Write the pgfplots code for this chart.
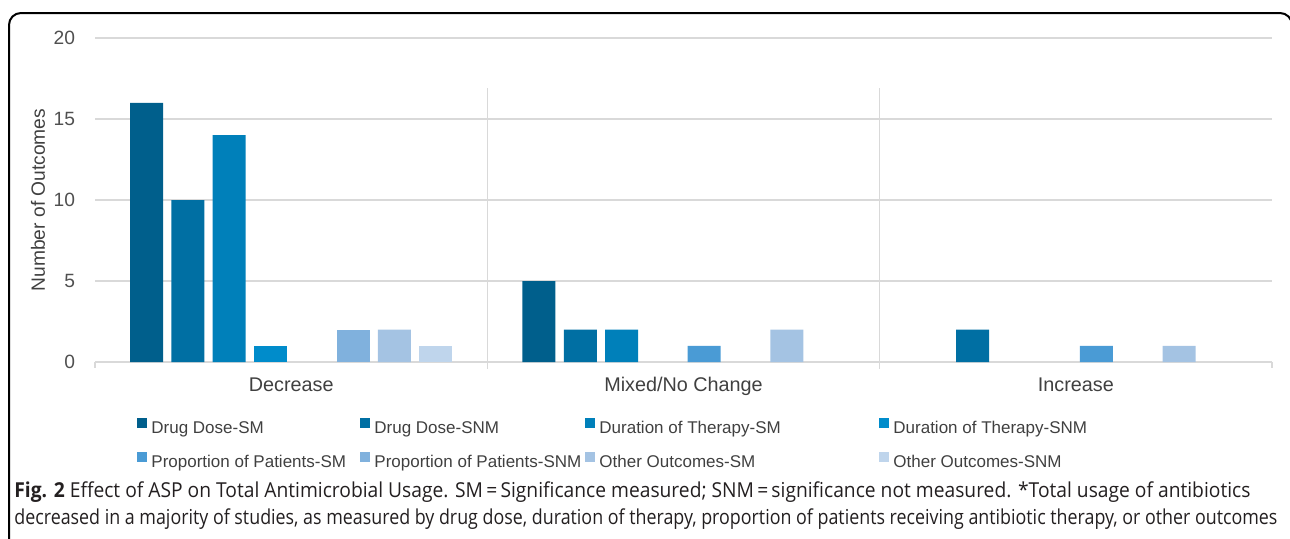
\documentclass[border=0pt]{standalone}
\usepackage{graphicx}
\usepackage{pgfplots}
\pgfplotsset{compat=1.18}
\usepackage{fontspec}
\setmainfont{Liberation Sans}
\newfontfamily\capfont{Open Sans}
\definecolor{cA}{HTML}{005F8C}
\definecolor{cB}{HTML}{006FA3}
\definecolor{cC}{HTML}{0080BA}
\definecolor{cD}{HTML}{008CCB}
\definecolor{cE}{HTML}{4A9BD5}
\definecolor{cF}{HTML}{80B1DD}
\definecolor{cG}{HTML}{A4C3E3}
\definecolor{cH}{HTML}{BFD5EC}
\definecolor{gridgray}{HTML}{D9D9D9}
\definecolor{tickgray}{HTML}{505050}
\definecolor{labgray}{HTML}{404040}
\definecolor{capblack}{HTML}{231F20}
\begin{document}
\begin{tikzpicture}
\useasboundingbox (0,0) rectangle (645pt,269pt);
\begin{scope}
\clip (0,0) rectangle (645pt,269pt);
\draw[line width=1pt, rounded corners=6pt] (4.5pt,262.5pt) rectangle (646pt,-20pt);
\end{scope}
\begin{axis}[
  at={(47.5pt,88pt)}, anchor=south west,
  scale only axis, width=588.5pt, height=162pt,
  xmin=-0.5, xmax=2.5, ymin=0, ymax=20,
  ytick={0,5,10,15,20},
  xtick={0,1,2}, xticklabels={Decrease,Mixed/No Change,Increase},
  axis line style={draw=none},
  major tick length=0pt,
  ymajorgrids, grid style={color=gridgray, line width=0.6pt},
  ybar=4.15pt, bar width=16.5pt,
  clip=false,
  /pgf/number format/assume math mode=true,
  y tick label style={font=\fontsize{9.6}{11}\selectfont, text=tickgray, anchor=east, xshift=-6.5pt},
  x tick label style={font=\fontsize{9.9}{11}\selectfont, text=labgray, anchor=north, yshift=-4.2pt},
  ylabel={Number of Outcomes},
  ylabel style={at={(axis description cs:-0.0484,0.5)}, anchor=center, font=\fontsize{9.6}{11}\selectfont, text=labgray},
  legend columns=4,
  legend style={at={(axis description cs:0.0357,-0.1728)}, anchor=north west, draw=none, fill=none, inner sep=0pt,
    font=\fontsize{8.5}{10}\selectfont, text=labgray, row sep=7.9pt,
    nodes={inner xsep=2pt, inner ysep=0pt}},
  legend cell align=left,
  legend image code/.code={\fill[#1] (0pt,0.2pt) rectangle (5pt,5.2pt);},
]
\draw[gridgray, line width=0.6pt] (axis cs:-0.5,0) -- (axis cs:2.5,0);
\draw[gridgray, line width=0.6pt] (axis cs:-0.5,0) -- (axis cs:-0.5,-0.4);
\draw[gridgray, line width=0.6pt] (axis cs:2.5,0) -- (axis cs:2.5,-0.4);
\draw[gridgray, line width=0.6pt] (axis cs:0.5,16.9) -- (axis cs:0.5,-0.45);
\draw[gridgray, line width=0.6pt] (axis cs:1.5,16.9) -- (axis cs:1.5,-0.45);
\addplot[fill=cA, draw=none] coordinates {(0,16) (1,5)};
\addlegendentry{\makebox[102.5pt][l]{Drug Dose-SM}}
\addplot[fill=cB, draw=none] coordinates {(0,10) (1,2) (2,2)};
\addlegendentry{\makebox[103.5pt][l]{Drug Dose-SNM}}
\addplot[fill=cC, draw=none] coordinates {(0,14) (1,2)};
\addlegendentry{\makebox[138pt][l]{Duration of Therapy-SM}}
\addplot[fill=cD, draw=none] coordinates {(0,1)};
\addlegendentry{\makebox[100pt][l]{Duration of Therapy-SNM}}
\addplot[fill=cE, draw=none] coordinates {(1,1) (2,1)};
\addlegendentry{\makebox[102.5pt][l]{Proportion of Patients-SM}}
\addplot[fill=cF, draw=none] coordinates {(0,2)};
\addlegendentry{\makebox[103.5pt][l]{Proportion of Patients-SNM}}
\addplot[fill=cG, draw=none] coordinates {(0,2) (1,2) (2,1)};
\addlegendentry{\makebox[138pt][l]{Other Outcomes-SM}}
\addplot[fill=cH, draw=none] coordinates {(0,1)};
\addlegendentry{\makebox[100pt][l]{Other Outcomes-SNM}}
\end{axis}
\node[anchor=base west, inner sep=0pt, text=capblack] at (7pt,20.5pt) {\resizebox{618pt}{\height}{\capfont\fontsize{10.3}{12}\selectfont\textbf{Fig. 2} Effect of ASP on Total Antimicrobial Usage. SM\,=\,Significance measured; SNM\,=\,significance not measured. *Total usage of antibiotics}};
\node[anchor=base west, inner sep=0pt, text=capblack] at (7pt,7pt) {\resizebox{631.5pt}{\height}{\capfont\fontsize{10.3}{12}\selectfont decreased in a majority of studies, as measured by drug dose, duration of therapy, proportion of patients receiving antibiotic therapy, or other outcomes}};
\end{tikzpicture}
\end{document}
